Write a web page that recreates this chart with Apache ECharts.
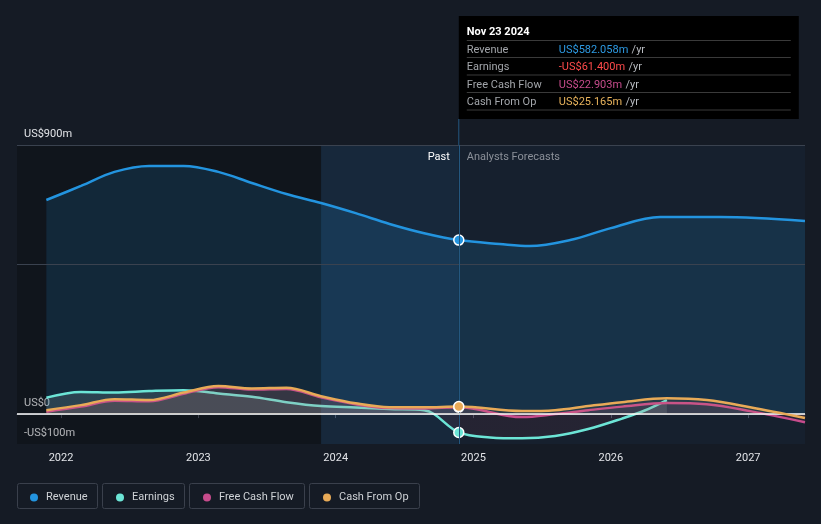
<!DOCTYPE html>
<html><head><meta charset="utf-8">
<script src="https://cdn.jsdelivr.net/npm/echarts@6/dist/echarts.min.js"></script>
<style>html,body{margin:0;padding:0;background:#151b25;}#c{width:821px;height:524px;}</style>
</head><body><div id="c"></div>
<script>
// ---------- data ----------
const pastDates = ['2021-11-23','2022-02-23','2022-05-23','2022-08-23','2022-11-23','2023-02-23','2023-05-23','2023-08-23','2023-11-23','2024-02-23','2024-05-23','2024-08-23','2024-11-23'];
const revenueForecastDates = ['2025-03-12','2025-05-30','2025-09-15','2026-01-01','2026-05-12','2026-10-18','2027-06-01'];
const revenueValues = [716,763,810,830,830,810,773,736,706,672,636,605,582.058, 569,562,582,622,659,659,646];

const earningsForecastDates = ['2025-02-14','2025-05-10','2025-08-06','2025-11-02','2026-01-31','2026-04-01','2026-05-30'];
const earningsValues = [55,74,72,77,80,69,58,40,27,22,17,13,-61.4, -78,-81,-73,-50,-15,12,47];

const cashForecastDates = ['2025-05-10','2025-08-06','2025-11-02','2026-01-31','2026-05-30','2026-09-13','2027-01-06','2027-06-01'];
const fcfValues = [8,25,45,43,68,90,82,84,56,33,20,19,22.903, -10,0,13,25,37,33,10,-27];
const cfoValues = [13,30,50,47,72,94,86,88,60,36,23,23,25.165, 10,13,27,40,53,47,23,-13];

const yTickValues = [-100, 0, 900];
const yTickLabels = ['-US$100m', 'US$0', 'US$900m'];
const gridLines = [500, 900];

const axisMin = '2021-09-06';
const axisMax = '2027-06-01';
const lastYearStart = '2023-11-23';
const nowDate = '2024-11-23';

const tipTitle = 'Nov 23 2024';
const tipLabels = ['Revenue','Earnings','Free Cash Flow','Cash From Op'];
const tipValues = ['US$582.058m','-US$61.400m','US$22.903m','US$25.165m'];

const seriesNames = ['Revenue','Earnings','Free Cash Flow','Cash From Op'];
const colors = ['#2394df','#6ce5d6','#c74c8c','#e8aa57'];
const tipColors = ['#2d9ae3','#ff4b4b','#c74c8c','#e8b35c'];

// ---------- build ----------
function build(dates, values, color) {
  return dates.map((d, i) => {
    if (d === nowDate) {
      return { value: [d, values[i]], symbol: 'circle', symbolSize: 10,
        itemStyle: { color: color, borderColor: '#ffffff', borderWidth: 1.5 } };
    }
    return [d, values[i]];
  });
}
const font = 'Roboto, "Noto Sans", sans-serif';
const chart = echarts.init(document.getElementById('c'), null, { renderer: 'canvas' });

function lineSeries(name, data, color, area, z) {
  return {
    name, type: 'line', data, smooth: 0.35, symbol: 'none', showSymbol: true,
    lineStyle: { color, width: 2.5 }, itemStyle: { color },
    areaStyle: area, z, silent: true, animation: false
  };
}

const option = {
  backgroundColor: '#151b25',
  animation: false,
  textStyle: { fontFamily: font },
  grid: { left: 17, right: 16, top: 145, bottom: 80 },
  xAxis: {
    type: 'time', min: axisMin, max: axisMax,
    minInterval: 365 * 24 * 3600 * 1000,
    axisLine: { lineStyle: { color: '#4b5260', width: 1 } },
    axisTick: { show: true, length: 4, lineStyle: { color: '#4b5260' } },
    axisLabel: { color: '#e2e4e8', fontSize: 11, margin: 9, formatter: '{yyyy}', fontFamily: font },
    splitLine: { show: false }
  },
  yAxis: {
    type: 'value', min: -100, max: 900, interval: 100,
    axisLine: { show: false }, axisTick: { show: false }, splitLine: { show: false },
    axisLabel: {
      inside: true, margin: 7, color: '#e2e4e8', fontSize: 11, fontFamily: font,
      verticalAlign: 'bottom', padding: [0, 0, 5, 0],
      formatter: v => { const i = yTickValues.indexOf(v); return i >= 0 ? yTickLabels[i] : ''; }
    }
  },
  legend: seriesNames.map((n, i) => ({
    data: [n], left: [25, 111, 198, 318][i], top: 487, icon: 'circle',
    itemWidth: 14, itemHeight: 8, itemGap: 0,
    textStyle: { color: '#cfd2d6', fontSize: 11, fontFamily: font },
    selectedMode: false
  })),
  series: [
    {
      type: 'line', data: [], z: 0, silent: true,
      markArea: {
        silent: true,
        data: [
          [{ xAxis: axisMin, itemStyle: { color: 'rgba(0,0,0,0.22)' } }, { xAxis: lastYearStart }],
          [{ xAxis: lastYearStart, itemStyle: { color: 'rgba(40,130,210,0.13)' } }, { xAxis: nowDate }],
          [{ xAxis: nowDate, itemStyle: { color: 'rgba(40,80,130,0.10)' } }, { xAxis: axisMax }]
        ]
      },
      markLine: {
        silent: true, symbol: 'none', label: { show: false },
        data: [
          ...gridLines.map(v => ({ yAxis: v, lineStyle: { color: '#3a424f', width: 1, type: 'solid' } })),
          { xAxis: nowDate, lineStyle: { color: '#24577f', width: 1, type: 'solid' } }
        ]
      }
    },
    lineSeries('Revenue', build(pastDates.concat(revenueForecastDates), revenueValues, colors[0]), colors[0],
      { color: 'rgba(35,148,223,0.22)' }, 2),
    lineSeries('Earnings', build(pastDates.concat(earningsForecastDates), earningsValues, colors[1]), colors[1],
      { color: { type: 'linear', x: 0, y: 0, x2: 0, y2: 1, colorStops: [
        { offset: 0, color: 'rgba(160,190,190,0.25)' }, { offset: 0.5, color: 'rgba(160,190,190,0.25)' },
        { offset: 0.5, color: 'rgba(199,76,100,0.12)' }, { offset: 1, color: 'rgba(199,76,100,0.12)' }] } }, 3),
    lineSeries('Free Cash Flow', build(pastDates.concat(cashForecastDates), fcfValues, colors[2]), colors[2],
      { color: 'rgba(199,76,140,0.15)' }, 4),
    lineSeries('Cash From Op', build(pastDates.concat(cashForecastDates), cfoValues, colors[3]), colors[3],
      { color: 'rgba(232,170,87,0.12)' }, 5),
    {
      type: 'line', data: [], z: 6, silent: true,
      markLine: { silent: true, symbol: 'none', label: { show: false },
        data: [{ yAxis: 0, lineStyle: { color: '#ffffff', width: 1.5, type: 'solid' } }] }
    }
  ]
};
chart.setOption(option);

// overlay texts positioned from axis coordinates
const xNow = chart.convertToPixel({ xAxisIndex: 0 }, +new Date(nowDate));
const yTop = chart.convertToPixel({ yAxisIndex: 0 }, 900);
const f11 = '11px ' + font;
const graphics = [];
graphics.push({ type: 'line', shape: { x1: xNow, y1: 119, x2: xNow, y2: yTop }, style: { stroke: '#24577f', lineWidth: 1 }, z: 10 });
graphics.push({ type: 'text', x: xNow - 9, y: yTop + 12, style: { text: 'Past', fill: '#ffffff', font: f11, textAlign: 'right', textVerticalAlign: 'middle' }, z: 10 });
graphics.push({ type: 'text', x: xNow + 8, y: yTop + 12, style: { text: 'Analysts Forecasts', fill: '#8b9099', font: f11, textAlign: 'left', textVerticalAlign: 'middle' }, z: 10 });
// tooltip box
graphics.push({ type: 'rect', shape: { x: xNow, y: 16, width: 340, height: 103 }, style: { fill: '#000000' }, z: 20 });
graphics.push({ type: 'text', x: xNow + 8, y: 32, style: { text: tipTitle, fill: '#ffffff', font: 'bold 11px ' + font, textVerticalAlign: 'middle' }, z: 21 });
[40.5, 57.5, 75, 92.5, 110].forEach(y => graphics.push({ type: 'line', shape: { x1: xNow + 8, y1: y, x2: xNow + 332, y2: y }, style: { stroke: '#3a3a3a', lineWidth: 1 }, z: 21 }));
[50, 67, 85, 102].forEach((y, i) => {
  graphics.push({ type: 'text', x: xNow + 8, y, style: { text: tipLabels[i], fill: '#a3a6ab', font: f11, textVerticalAlign: 'middle' }, z: 21 });
  graphics.push({ type: 'text', x: xNow + 100, y, style: {
    text: '{v|' + tipValues[i] + '} {u|/yr}', textVerticalAlign: 'middle',
    rich: { v: { fill: tipColors[i], font: f11 }, u: { fill: '#b8bbc0', font: f11 } } }, z: 21 });
});
// legend boxes
[[17, 80], [102, 82], [189, 115], [309, 110]].forEach(([x, w]) => graphics.push({
  type: 'rect', shape: { x: x + 0.5, y: 483.5, width: w, height: 25, r: 2 }, style: { fill: 'none', stroke: '#3a404c', lineWidth: 1 }, z: 0
}));
chart.setOption({ graphic: graphics });
</script></body></html>
